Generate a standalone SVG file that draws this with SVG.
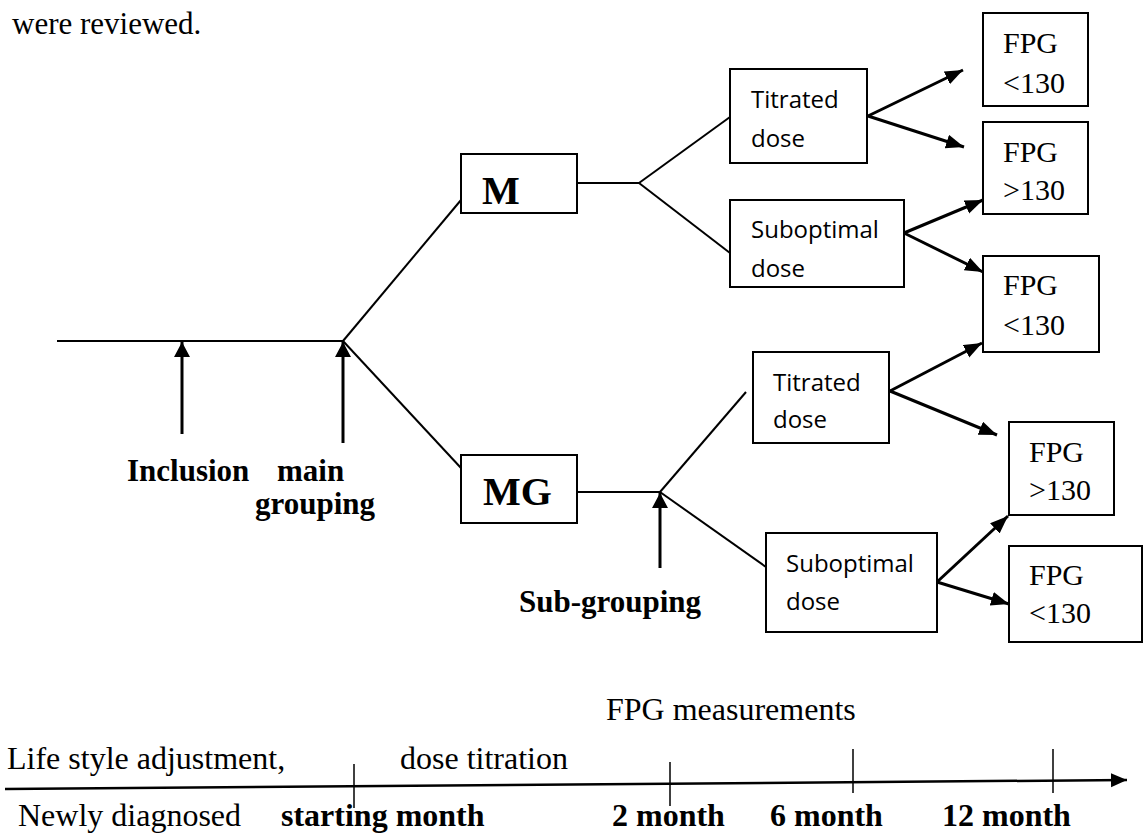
<svg xmlns="http://www.w3.org/2000/svg" width="1144" height="836" viewBox="0 0 1144 836">
<defs>
<style>
.ln{stroke:#000;stroke-width:2;fill:none}
.ar{stroke:#000;stroke-width:3;fill:none;marker-end:url(#ah)}
.up{stroke:#000;stroke-width:3;fill:none;marker-end:url(#ahu)}
.tln{stroke:#000;stroke-width:2.5;fill:none;marker-end:url(#aht)}
.tick{stroke:#000;stroke-width:1.5;fill:none}
.box{fill:#fff;stroke:#000;stroke-width:2}
.tr{font-family:"Liberation Serif","Times New Roman",serif;font-size:30px;fill:#000}
.trb{font-family:"Liberation Serif","Times New Roman",serif;font-size:31px;font-weight:bold;fill:#000}
.big{font-family:"Liberation Serif","Times New Roman",serif;font-size:40px;font-weight:bold;fill:#000}
.sans{font-family:"Open Sans","DejaVu Sans",sans-serif;font-size:24px;fill:#000}
.tl{font-family:"Liberation Serif","Times New Roman",serif;font-size:32px;fill:#000}
.tlb{font-family:"Liberation Serif","Times New Roman",serif;font-size:32px;font-weight:bold;fill:#000}
</style>
<marker id="ah" markerUnits="userSpaceOnUse" markerWidth="20" markerHeight="16" refX="18" refY="7" orient="auto"><path d="M0,0 L18,7 L0,14 z" fill="#000"/></marker>
<marker id="ahu" markerUnits="userSpaceOnUse" markerWidth="18" markerHeight="18" refX="15" refY="8" orient="auto"><path d="M0,0 L15,8 L0,16 z" fill="#000"/></marker>
<marker id="aht" markerUnits="userSpaceOnUse" markerWidth="18" markerHeight="16" refX="16" refY="7" orient="auto"><path d="M0,0 L16,7 L0,14 z" fill="#000"/></marker>
</defs>

<text class="tr" x="12" y="34" style="font-size:31px">were reviewed.</text>

<g id="connectors">
<line class="ln" x1="57" y1="341" x2="343" y2="341"/>
<line class="up" x1="182" y1="434" x2="182" y2="342"/>
<line class="up" x1="343" y1="443" x2="343" y2="342"/>
<line class="ln" x1="343" y1="341" x2="461" y2="200"/>
<line class="ln" x1="343" y1="341" x2="461" y2="468"/>
<line class="ln" x1="577" y1="183" x2="639" y2="183"/>
<line class="ln" x1="639" y1="183" x2="730" y2="117"/>
<line class="ln" x1="639" y1="183" x2="730" y2="253"/>
<line class="ln" x1="577" y1="492" x2="660" y2="492"/>
<line class="ln" x1="660" y1="492" x2="746" y2="392"/>
<line class="ln" x1="660" y1="492" x2="766" y2="567"/>
<line class="up" x1="660" y1="568" x2="660" y2="493"/>
<line class="ar" x1="868" y1="116" x2="963" y2="70"/>
<line class="ar" x1="868" y1="116" x2="964" y2="147"/>
<line class="ar" x1="904" y1="233" x2="983" y2="200"/>
<line class="ar" x1="904" y1="233" x2="983" y2="272"/>
<line class="ar" x1="890" y1="391" x2="982" y2="343"/>
<line class="ar" x1="890" y1="391" x2="997" y2="435"/>
<line class="ar" x1="937" y1="582" x2="1008" y2="516"/>
<line class="ar" x1="937" y1="582" x2="1009" y2="604"/>
</g>

<g id="labels">
<text class="trb" x="127" y="481">Inclusion</text>
<text class="trb" x="277" y="481">main</text>
<text class="trb" x="255" y="514">grouping</text>
<text class="trb" x="519" y="612">Sub-grouping</text>
</g>

<g id="node-M"><rect class="box" x="461" y="154" width="116" height="59"/><text class="big" x="482" y="204">M</text></g>
<g id="node-MG"><rect class="box" x="461" y="455" width="116" height="68"/><text class="big" x="483" y="505">MG</text></g>

<g id="node-titrated1"><rect class="box" x="730" y="69" width="137" height="94"/><text class="sans" x="751" y="108">Titrated</text><text class="sans" x="751" y="147">dose</text></g>
<g id="node-suboptimal1"><rect class="box" x="730" y="200" width="174" height="87"/><text class="sans" x="751" y="238">Suboptimal</text><text class="sans" x="751" y="277">dose</text></g>
<g id="node-titrated2"><rect class="box" x="753" y="352" width="136" height="91"/><text class="sans" x="773" y="391">Titrated</text><text class="sans" x="773" y="428">dose</text></g>
<g id="node-suboptimal2"><rect class="box" x="766" y="533" width="171" height="99"/><text class="sans" x="786" y="572">Suboptimal</text><text class="sans" x="786" y="610">dose</text></g>

<g id="node-fpg1"><rect class="box" x="983" y="13" width="105" height="93"/><text class="tr" x="1003" y="53">FPG</text><text class="tr" x="1003" y="93">&lt;130</text></g>
<g id="node-fpg2"><rect class="box" x="983" y="122" width="105" height="92"/><text class="tr" x="1003" y="162">FPG</text><text class="tr" x="1003" y="200">&gt;130</text></g>
<g id="node-fpg3"><rect class="box" x="983" y="256" width="116" height="96"/><text class="tr" x="1003" y="295">FPG</text><text class="tr" x="1003" y="335">&lt;130</text></g>
<g id="node-fpg4"><rect class="box" x="1009" y="422" width="105" height="93"/><text class="tr" x="1029" y="462">FPG</text><text class="tr" x="1029" y="500">&gt;130</text></g>
<g id="node-fpg5"><rect class="box" x="1009" y="546" width="133" height="96"/><text class="tr" x="1029" y="585">FPG</text><text class="tr" x="1029" y="623">&lt;130</text></g>

<g id="timeline">
<line class="tln" x1="5" y1="789" x2="1127" y2="780"/>
<line class="tick" x1="354" y1="764" x2="354" y2="808"/>
<line class="tick" x1="670" y1="762" x2="670" y2="806"/>
<line class="tick" x1="853" y1="749" x2="853" y2="793"/>
<line class="tick" x1="1053" y1="749" x2="1053" y2="793"/>
<text class="tl" x="606" y="720">FPG measurements</text>
<text class="tl" x="7" y="769">Life style adjustment,</text>
<text class="tl" x="400" y="769">dose titration</text>
<text class="tl" x="18" y="826">Newly diagnosed</text>
<text class="tlb" x="281" y="826">starting month</text>
<text class="tlb" x="612" y="826">2 month</text>
<text class="tlb" x="770" y="826">6 month</text>
<text class="tlb" x="942" y="826">12 month</text>
</g>
</svg>
